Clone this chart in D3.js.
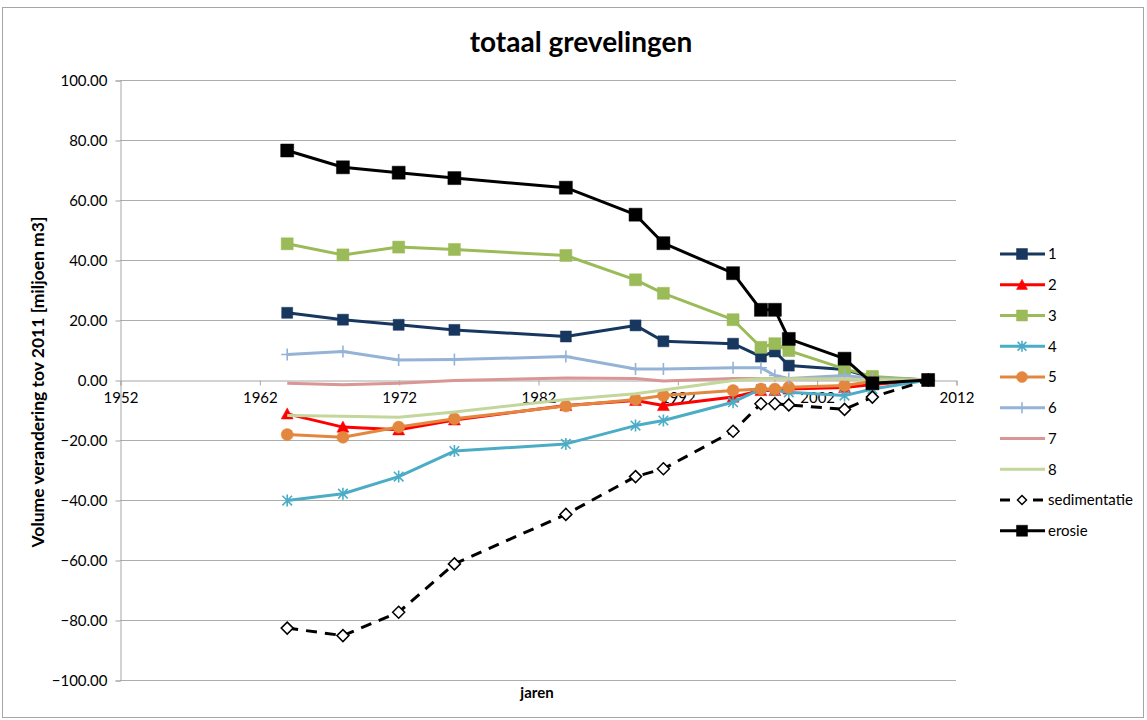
<!DOCTYPE html>
<html>
<head>
<meta charset="utf-8">
<script src="https://cdn.jsdelivr.net/npm/d3@7"></script>
<style>
  body { margin: 0; background: #fff; }
  svg { display: block; }
  text { font-family: Lato, "Liberation Sans", sans-serif; fill: #000; }
</style>
</head>
<body>
<svg id="chart" width="1147" height="720"></svg>
<script>
// Survey years (x values)
const years = [1964, 1968, 1972, 1976, 1984, 1989, 1991, 1996, 1998, 1999, 2000, 2004, 2006, 2010];

// Volume change relative to 2011 per sub-area [million m3]
const vak1 = [22.4, 20.1, 18.4, 16.7, 14.5, 18.2, 12.9, 12.1, 7.8, 9.5, 4.8, 3.5, 0.8, 0];
const vak2 = [-11.3, -15.7, -16.6, -13.3, -8.5, -6.8, -8.5, -5.7, -3.5, -3.5, -3.0, -2.5, -1.5, 0];
const vak3 = [45.4, 41.7, 44.3, 43.5, 41.5, 33.4, 28.9, 20.1, 10.9, 12.1, 9.8, 3.7, 1.2, 0];
const vak4 = [-40.2, -37.9, -32.2, -23.7, -21.3, -15.2, -13.5, -7.4, -3.0, -3.5, -4.1, -5.2, -3.0, 0];
const vak5 = [-18.2, -19.1, -15.7, -12.9, -8.7, -6.5, -5.2, -3.5, -3.0, -3.0, -2.4, -1.8, -0.5, 0];
const vak6 = [8.5, 9.5, 6.7, 6.8, 7.8, 3.7, 3.7, 4.1, 4.1, 1.5, 0.5, 1.5, 0.5, 0];
const vak7 = [-1.1, -1.6, -1.1, -0.2, 0.7, 0.5, -0.3, 0.5, 0.5, 0.5, 0.4, 0.3, 0.1, 0];
const vak8 = [-11.8, -12.1, -12.4, -10.7, -6.5, -4.6, -3.3, -0.2, 0.4, 0.4, 0.4, 0.3, 0.1, 0];
const sedimentatie = [-82.7, -85.2, -77.4, -61.3, -44.8, -32.2, -29.6, -17.1, -7.9, -7.9, -8.3, -9.8, -5.7, 0];
const erosie = [76.5, 70.9, 69.1, 67.3, 64.1, 55.1, 45.6, 35.6, 23.4, 23.4, 13.7, 7.1, -1.1, 0];

// Axis ticks
const xTicks = [1952, 1962, 1972, 1982, 1992, 2002, 2012];
const yTicks = [-100, -80, -60, -40, -20, 0, 20, 40, 60, 80, 100];

const seriesNames = ["1", "2", "3", "4", "5", "6", "7", "8", "sedimentatie", "erosie"];
const seriesValues = [vak1, vak2, vak3, vak4, vak5, vak6, vak7, vak8, sedimentatie, erosie];

// Per-series styling
const styles = {
  "1": { color: "#17375E", width: 3, marker: "square", size: 11 },
  "2": { color: "#FF0000", width: 3, marker: "triangle", size: 12 },
  "3": { color: "#9BBB59", width: 3, marker: "square", size: 12 },
  "4": { color: "#4BACC6", width: 3, marker: "star", size: 12 },
  "5": { color: "#E3873F", width: 3, marker: "circle", size: 12 },
  "6": { color: "#95B3D7", width: 3, marker: "plus", size: 12 },
  "7": { color: "#D99694", width: 3, marker: "none", size: 0 },
  "8": { color: "#C3D69B", width: 3, marker: "none", size: 0 },
  "sedimentatie": { color: "#000000", width: 3, marker: "diamond", size: 12, dash: "11,8" },
  "erosie": { color: "#000000", width: 3, marker: "square", size: 13 }
};

const svg = d3.select("#chart");

// Outer chart frame
svg.append("rect")
  .attr("x", 2.5).attr("y", 7.5)
  .attr("width", 1141).attr("height", 710)
  .attr("fill", "#fff").attr("stroke", "#A6A6A6").attr("stroke-width", 1);

const x = d3.scaleLinear().domain([1952, 2012]).range([120, 956]);
const y = d3.scaleLinear().domain([-100, 100]).range([680, 80]);

// Horizontal gridlines
svg.append("g").selectAll("line").data(yTicks.filter(d => d !== 0)).join("line")
  .attr("x1", x(1952)).attr("x2", x(2012))
  .attr("y1", d => y(d) + 0.5).attr("y2", d => y(d) + 0.5)
  .attr("stroke", "#ADADAD").attr("stroke-width", 1);

// Vertical axis
const yAxis = svg.append("g")
  .attr("transform", `translate(${x(1952) + 0.5},0.5)`)
  .call(d3.axisLeft(y).tickValues(yTicks).tickFormat(d3.format(".2f")).tickSize(5).tickPadding(8));
yAxis.select(".domain").attr("stroke", "#A6A6A6");
yAxis.selectAll(".tick line").attr("stroke", "#A6A6A6");
yAxis.selectAll(".tick text").attr("font-size", 15).attr("font-family", "Lato, sans-serif").attr("fill", "#000");

// Horizontal axis crossing at zero
const xAxis = svg.append("g")
  .attr("transform", `translate(0.5,${y(0) + 0.5})`)
  .call(d3.axisBottom(x).tickValues(xTicks).tickFormat(d3.format("d")).tickSize(5).tickPadding(7));
xAxis.select(".domain").attr("stroke", "#A6A6A6");
xAxis.selectAll(".tick line").attr("stroke", "#A6A6A6");
xAxis.selectAll(".tick text").attr("font-size", 15).attr("font-family", "Lato, sans-serif").attr("fill", "#000");

// Marker shapes
function markerPath(type, s) {
  const h = s / 2;
  switch (type) {
    case "square": return d3.symbol(d3.symbolSquare, s * s)();
    case "circle": return d3.symbol(d3.symbolCircle, Math.PI * h * h)();
    case "triangle": return `M0,${-h}L${h},${h * 0.85}L${-h},${h * 0.85}Z`;
    case "diamond": return `M0,${-h}L${h},0L0,${h}L${-h},0Z`;
    case "star": {
      const d = h * 0.8;
      return `M0,${-h}V${h}M${-d},${-d}L${d},${d}M${-d},${d}L${d},${-d}`;
    }
    case "plus": return `M0,${-h}V${h}M${-h},0H${h}`;
    default: return "";
  }
}

function drawMarker(g, type, s, color) {
  const p = g.append("path").attr("d", markerPath(type, s));
  if (type === "diamond") {
    p.attr("fill", "#fff").attr("stroke", "#000").attr("stroke-width", 1.5);
  } else if (type === "star" || type === "plus") {
    p.attr("fill", "none").attr("stroke", color).attr("stroke-width", 1.6);
  } else {
    p.attr("fill", color).attr("stroke", color).attr("stroke-width", 0.5);
  }
}

const line = d3.line().x(d => x(d[0])).y(d => y(d[1]));
const plot = svg.append("g");

seriesNames.forEach((name, i) => {
  const st = styles[name];
  const pts = years.map((yr, j) => [yr, seriesValues[i][j]]);
  const g = plot.append("g");
  g.append("path")
    .attr("d", line(pts))
    .attr("fill", "none")
    .attr("stroke", st.color)
    .attr("stroke-width", st.width)
    .attr("stroke-linejoin", "round")
    .attr("stroke-dasharray", st.dash || null);
  if (st.marker !== "none") {
    pts.forEach(p => {
      const mg = g.append("g").attr("transform", `translate(${x(p[0])},${y(p[1])})`);
      drawMarker(mg, st.marker, st.size, st.color);
    });
  }
});

// Legend
const legend = svg.append("g").attr("transform", "translate(1000,254)");
seriesNames.forEach((name, i) => {
  const st = styles[name];
  const row = legend.append("g").attr("transform", `translate(0,${i * 30.75})`);
  if (st.dash) {
    row.append("line").attr("x1", 0).attr("x2", 10).attr("stroke", "#000").attr("stroke-width", 3);
    row.append("line").attr("x1", 33).attr("x2", 43).attr("stroke", "#000").attr("stroke-width", 3);
  } else {
    row.append("line").attr("x1", 0).attr("x2", 45).attr("stroke", st.color).attr("stroke-width", 3);
  }
  if (st.marker !== "none") {
    const mg = row.append("g").attr("transform", "translate(22,0)");
    drawMarker(mg, st.marker, st.marker === "diamond" ? 9 : Math.min(st.size, 11), st.color);
  }
  row.append("text").attr("x", 48).attr("y", 0).attr("dy", "0.35em")
    .attr("font-size", 15).text(name);
});

// Titles
svg.append("text").attr("x", 581).attr("y", 52).attr("text-anchor", "middle")
  .attr("font-size", 28).attr("font-weight", "bold").text("totaal grevelingen");

svg.append("text").attr("x", 537).attr("y", 698).attr("text-anchor", "middle")
  .attr("font-size", 15).attr("font-weight", "bold").text("jaren");

svg.append("text")
  .attr("transform", `translate(44,${y(0) + 2}) rotate(-90)`)
  .attr("text-anchor", "middle")
  .attr("font-size", 17.5).attr("font-weight", "bold")
  .text("Volume verandering tov 2011 [miljoen m3]");
</script>
</body>
</html>
